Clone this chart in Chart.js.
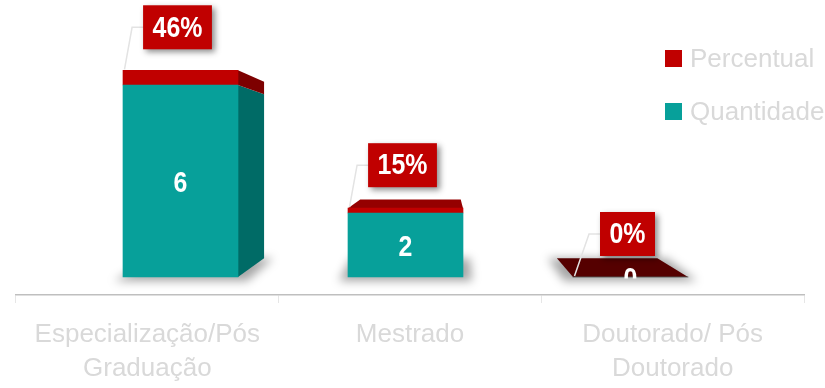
<!DOCTYPE html>
<html><head><meta charset="utf-8">
<script src="https://cdn.jsdelivr.net/npm/chart.js@4/dist/chart.umd.min.js"></script>
<style>html,body{margin:0;padding:0;background:#fff;}#wrap{width:825px;height:388px;}</style>
</head><body><div id="wrap"><canvas id="c" width="825" height="388"></canvas></div>
<script>
// ---- data ----
const categories = [['Especialização/Pós', 'Graduação'], ['Mestrado'], ['Doutorado/ Pós', 'Doutorado']];
const quantidade = [6, 2, 0];
const percentual = [0.46, 0.15, 0];
const seriesNames = ['Quantidade', 'Percentual'];

// ---- styling ----
const TEAL = '#07a09a', TEAL_SIDE = '#006b66';
const RED = '#c00000', RED_SIDE = '#7d0000';
const LIGHT_TEXT = '#d9d9d9';
const VP = {x: 445, y: 148}, KX = 0.126, KY = 0.146;
const sideColors = [TEAL_SIDE, RED_SIDE];

function back(px, py) { return [px + (VP.x - px) * KX, py + (VP.y - py) * KY]; }
function quad(ctx, pts, fill) {
  ctx.beginPath(); ctx.moveTo(pts[0][0], pts[0][1]);
  for (let i = 1; i < pts.length; i++) ctx.lineTo(pts[i][0], pts[i][1]);
  ctx.closePath(); ctx.fillStyle = fill; ctx.fill();
}
function narrowText(ctx, txt, x, y, sx) {
  ctx.save(); ctx.translate(x, y); ctx.scale(sx, 1); ctx.fillText(txt, 0, 0); ctx.restore();
}
function mixTop(t) {
  t = Math.max(0, Math.min(1, t));
  const r = Math.round(205 - 120 * t);
  return 'rgb(' + r + ',0,0)';
}

const threeD = {
  id: 'threeD',
  beforeDatasetsDraw(chart) {
    const ctx = chart.ctx;
    const m0 = chart.getDatasetMeta(0), m1 = chart.getDatasetMeta(1);
    m0.data.forEach((el0, i) => {
      const el1 = m1.data[i];
      const p0 = el0.getProps(['x', 'y', 'base', 'width'], true);
      const p1 = el1.getProps(['x', 'y', 'base', 'width'], true);
      const left = p0.x - p0.width / 2, right = p0.x + p0.width / 2, bottom = p0.base;
      // floor shadow
      ctx.save();
      ctx.filter = 'blur(5px)';
      const bl = back(left, bottom), br = back(right, bottom);
      quad(ctx, [[left - 9, bottom + 4], [right + 9, bottom + 4], [br[0] + 9, br[1]], [bl[0] - 9, bl[1]]], 'rgba(0,0,0,0.35)');
      ctx.restore();
      // side faces
      [p0, p1].forEach((p, d) => {
        const top = p.y, bot = p.base;
        if (Math.abs(bot - top) < 0.5) return;
        const l = p.x - p.width / 2, r = p.x + p.width / 2;
        if (r < VP.x) {
          quad(ctx, [[r, top], [r, bot], back(r, bot), back(r, top)], sideColors[d]);
        } else if (l > VP.x) {
          quad(ctx, [[l, top], [l, bot], back(l, bot), back(l, top)], sideColors[d]);
        }
      });
      // top face
      const top = p1.y;
      if (top > VP.y) {
        const t = (top - VP.y) / (bottom - VP.y);
        quad(ctx, [[left, top], [right, top], back(right, top), back(left, top)], mixTop(t));
      }
    });
  },
  afterDatasetsDraw(chart) {
    const ctx = chart.ctx;
    const m0 = chart.getDatasetMeta(0), m1 = chart.getDatasetMeta(1);
    const fontB = 'bold 30px "Liberation Sans", Arial, sans-serif';
    // value labels
    ctx.save();
    ctx.beginPath(); ctx.rect(0, 0, chart.width, m0.data[0].base + 1.5); ctx.clip();
    ctx.font = fontB; ctx.fillStyle = '#ffffff'; ctx.textAlign = 'center'; ctx.textBaseline = 'middle';
    m0.data.forEach((el, i) => {
      narrowText(ctx, String(quantidade[i]), el.x, (el.y + el.base) / 2 + 3, 0.83);
    });
    ctx.restore();
    // percent callouts
    m1.data.forEach((el, i) => {
      const txt = Math.round(percentual[i] * 100) + '%';
      ctx.save();
      ctx.font = fontB;
      const tw = ctx.measureText(txt).width * 0.83;
      const bw = tw + 19, bh = 44;
      const cx = el.x - 3, cy = el.y - 43;
      const bx = cx - bw / 2, by = cy - bh / 2;
      const left = el.x - el.width / 2;
      // leader line
      ctx.strokeStyle = '#e3e3e3'; ctx.lineWidth = 1.5;
      ctx.beginPath(); ctx.moveTo(bx, cy); ctx.lineTo(bx - 11, cy); ctx.lineTo(left + 1.5, el.y - 1); ctx.stroke();
      // box
      ctx.shadowColor = 'rgba(0,0,0,0.45)'; ctx.shadowBlur = 6; ctx.shadowOffsetX = 3; ctx.shadowOffsetY = 3;
      ctx.fillStyle = RED; ctx.fillRect(bx, by, bw, bh);
      ctx.shadowColor = 'transparent';
      ctx.fillStyle = '#ffffff'; ctx.textAlign = 'center'; ctx.textBaseline = 'middle';
      narrowText(ctx, txt, cx, cy + 1, 0.83);
      ctx.restore();
    });
    // legend
    ctx.save();
    ctx.font = '26px "Liberation Sans", Arial, sans-serif';
    ctx.textAlign = 'left'; ctx.textBaseline = 'middle';
    const order = [1, 0];
    order.forEach((d, k) => {
      const ds = chart.data.datasets[d];
      const cy = 58.5 + k * 53;
      ctx.fillStyle = ds.backgroundColor;
      ctx.fillRect(665, cy - 8.5, 17, 17);
      ctx.fillStyle = LIGHT_TEXT;
      ctx.fillText(ds.label, 690, cy + 1);
    });
    ctx.restore();
  }
};

const toPts = arr => arr.map((v, i) => ({x: i, y: v}));

new Chart(document.getElementById('c'), {
  type: 'bar',
  data: {
    labels: categories,
    datasets: [
      {label: seriesNames[0], data: toPts(quantidade), backgroundColor: TEAL, xAxisID: 'xb', barThickness: 115, borderWidth: 0},
      {label: seriesNames[1], data: toPts(percentual), backgroundColor: RED, xAxisID: 'xb', barThickness: 115, borderWidth: 0}
    ]
  },
  options: {
    responsive: false,
    animation: false,
    devicePixelRatio: 1,
    layout: {padding: {left: 16, right: 21, top: 53, bottom: 0}},
    plugins: {legend: {display: false}, tooltip: {enabled: false}},
    scales: {
      x: {
        type: 'category', position: 'bottom', offset: true,
        grid: {display: true, offset: true, drawOnChartArea: false, drawTicks: true, tickLength: 8, color: '#e6e6e6', lineWidth: 1},
        border: {display: true, color: '#bfbfbf', width: 1.5},
        ticks: {color: LIGHT_TEXT, padding: 15, maxRotation: 0, autoSkip: false,
                font: {family: '"Liberation Sans", Arial, sans-serif', size: 26, lineHeight: '34px'}},
        afterFit: s => { s.height = 93; }
      },
      xb: {
        type: 'linear', display: false, stacked: true, offset: false,
        min: -0.7311, max: 2.7711
      },
      y: {
        type: 'linear', display: false, stacked: true,
        min: -0.5625, max: 7
      }
    }
  },
  plugins: [threeD]
});
</script></body></html>
